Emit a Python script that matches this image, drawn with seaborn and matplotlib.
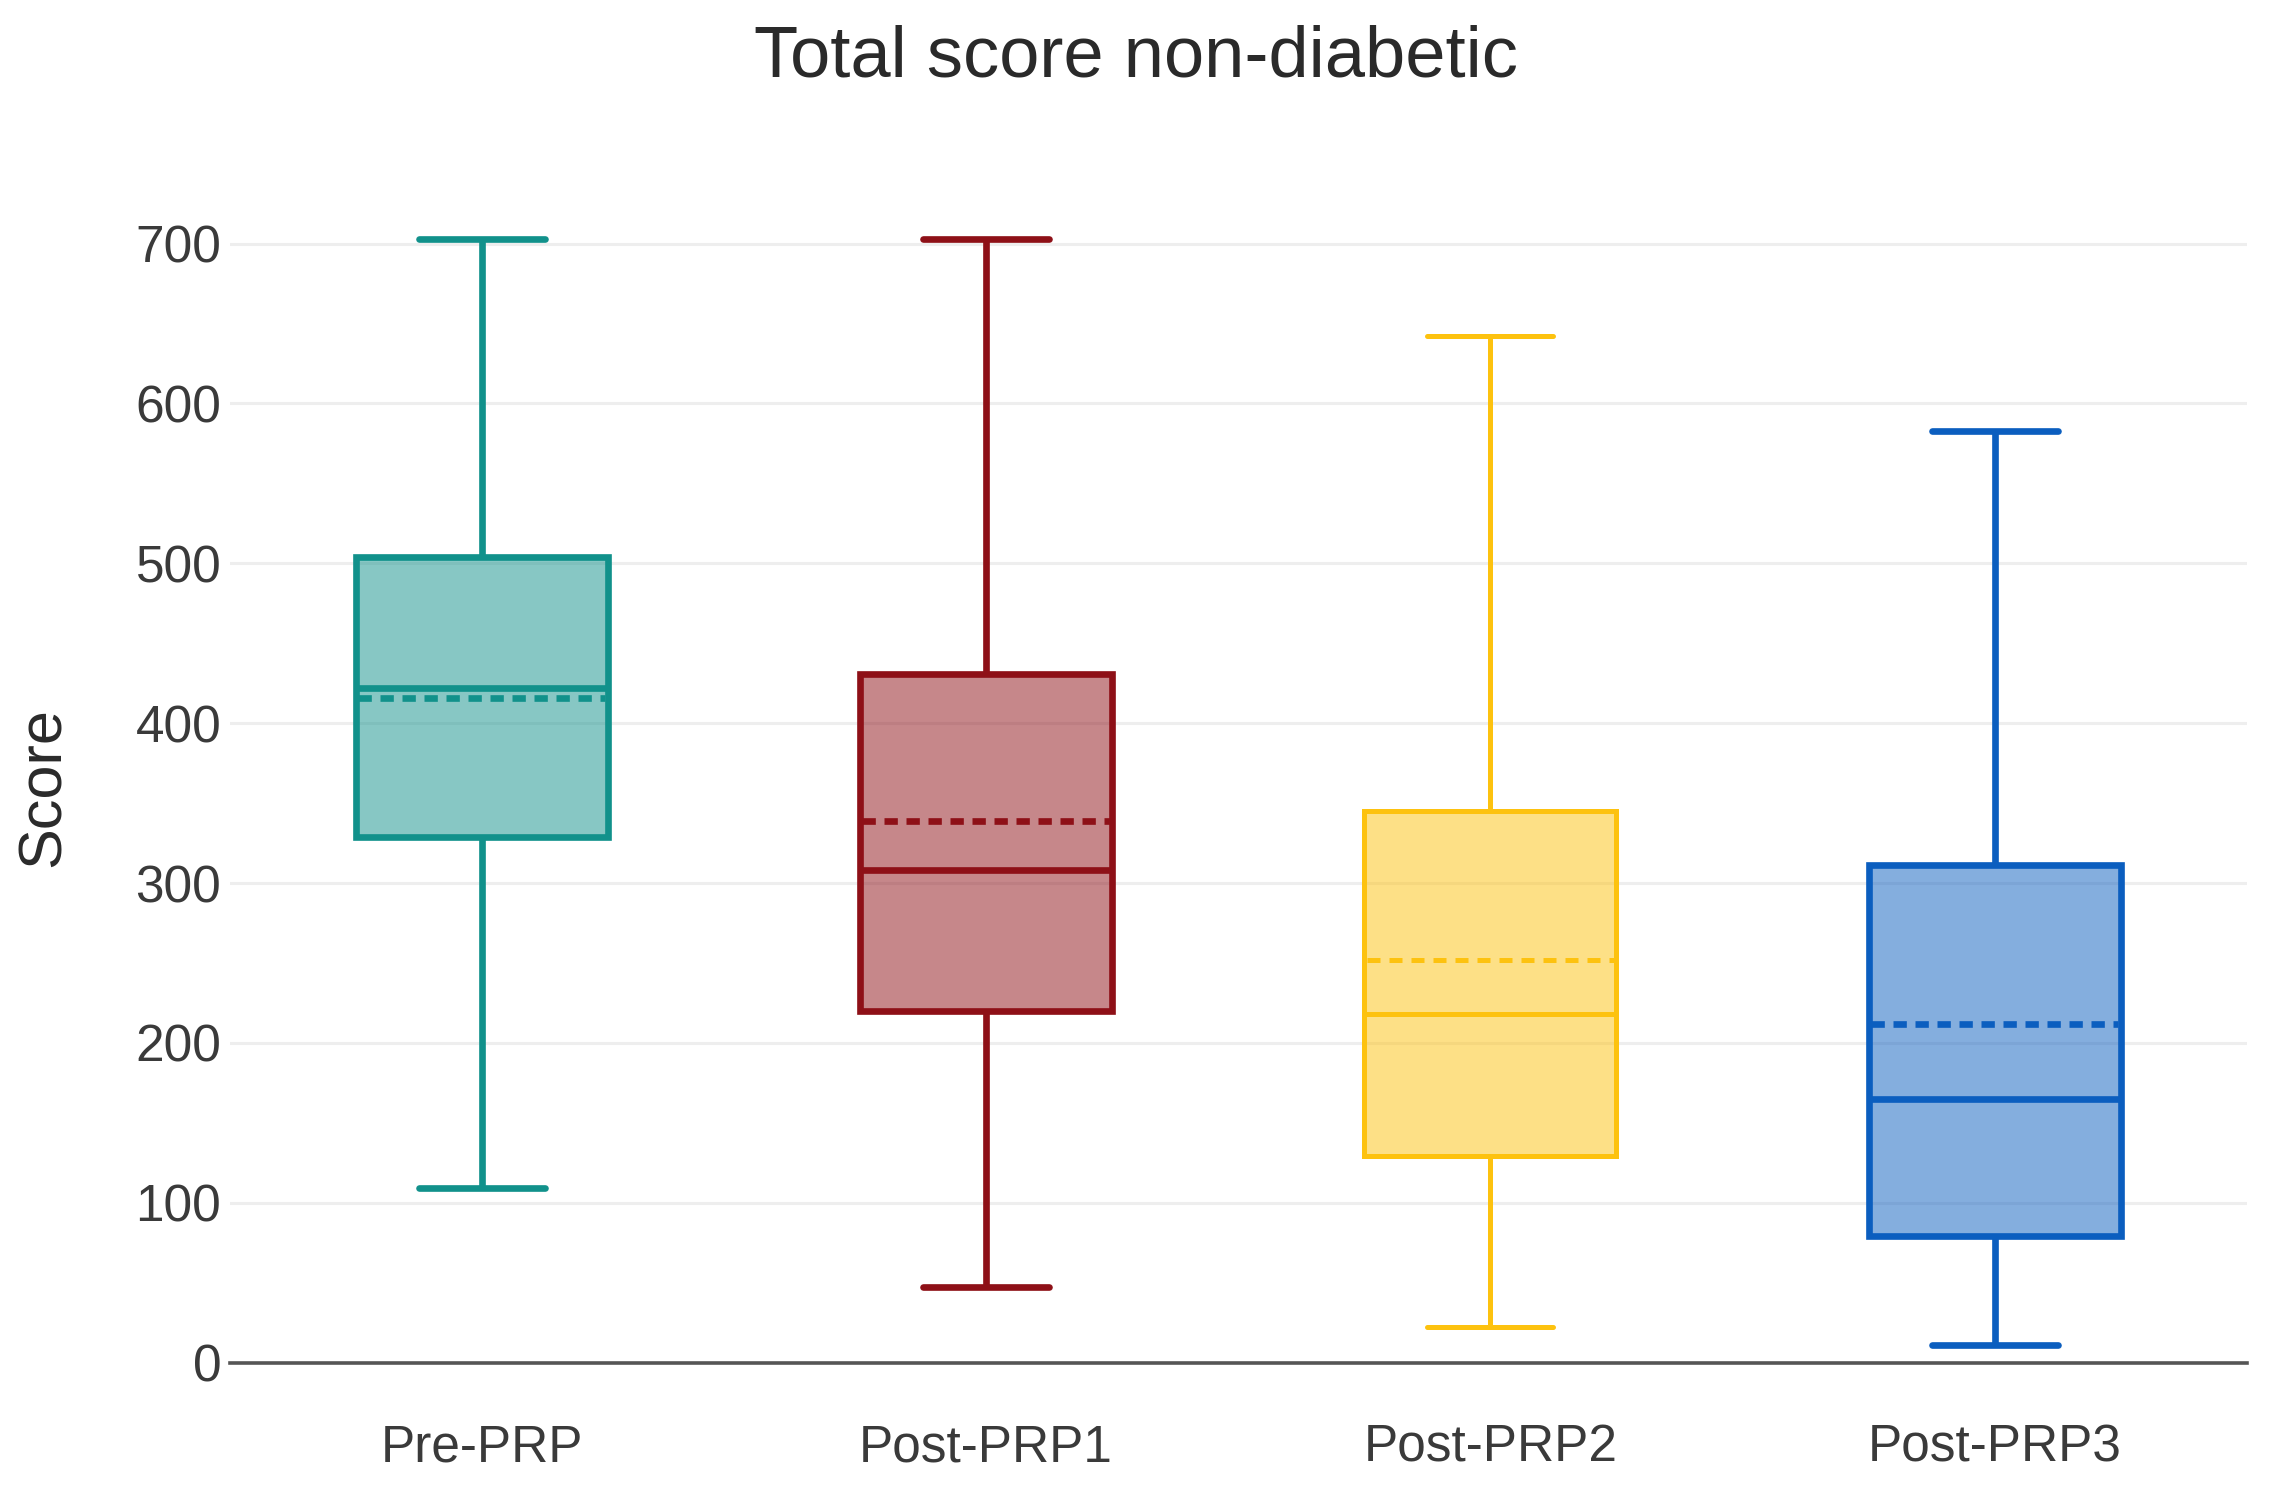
import numpy as np
import pandas as pd
import matplotlib
matplotlib.use("Agg")
import matplotlib.pyplot as plt
import seaborn as sns
from matplotlib.colors import to_rgba

# ---- data ----
categories = ["Pre-PRP", "Post-PRP1", "Post-PRP2", "Post-PRP3"]
whisker_low = [109, 47, 22, 11]
q1_values = [329, 220, 129, 79]
median_values = [422, 308, 218, 165]
q3_values = [504, 431, 345, 311]
whisker_high = [703, 703, 642, 583]
mean_values = [416, 339, 252, 212]
y_ticks = [0, 100, 200, 300, 400, 500, 600, 700]

edge_colors = ["#11918B", "#8E1017", "#FDC20F", "#0B5EBF"]
line_widths = [2.4, 2.4, 1.8, 2.4]
mean_dashes = [(0, (2.0, 1.3)), (0, (2.0, 1.3)), (0, (2.6, 1.8)), (0, (2.0, 1.3))]

# five-number summaries as records (n=5 -> quartiles are the 2nd/4th values)
rows = []
for cat, lo, a, m, b, hi in zip(categories, whisker_low, q1_values,
                                 median_values, q3_values, whisker_high):
    for v in (lo, a, m, b, hi):
        rows.append({"group": cat, "score": v})
df = pd.DataFrame(rows)

sns.set_theme(style="white")
plt.rcParams["font.family"] = ["Liberation Sans", "DejaVu Sans"]

fig = plt.figure(figsize=(11.365, 7.45), dpi=200)
ax = fig.add_axes([0.101, 0.0855, 0.8875, 0.7725])

for i, cat in enumerate(categories):
    n_before = len(ax.patches)
    sub = df[df["group"] == cat]
    sns.boxplot(data=sub, x="group", y="score", order=categories,
                color=edge_colors[i], linecolor=edge_colors[i],
                linewidth=line_widths[i], width=0.5, whis=np.inf,
                saturation=1, showfliers=False, ax=ax)
    for p in ax.patches[n_before:]:
        p.set_facecolor(to_rgba(edge_colors[i], 0.5))
        p.set_edgecolor(edge_colors[i])
    ax.hlines(mean_values[i], i - 0.245, i + 0.245, colors=edge_colors[i],
              linestyles=mean_dashes[i], linewidth=line_widths[i], zorder=5)

ax.set_xlim(-0.5, 3.5)
ax.set_ylim(0, 720)
ax.set_yticks(y_ticks)
ax.yaxis.grid(True, color="#EEEEEE", linewidth=1.1)
ax.xaxis.grid(False)
ax.set_axisbelow(True)
for s in ["top", "right", "left"]:
    ax.spines[s].set_visible(False)
ax.spines["bottom"].set_color("#555555")
ax.spines["bottom"].set_linewidth(1.3)
ax.tick_params(axis="both", length=0, labelsize=18.5, colors="#3a3a3a")
ax.tick_params(axis="x", pad=22)
ax.tick_params(axis="y", pad=3)
ax.set_xlabel("")
ax.set_ylabel("Score", fontsize=22, color="#2a2a2a")
ax.yaxis.set_label_coords(-0.078, 0.5)

fig.suptitle("Total score non-diabetic", fontsize=26, color="#2a2a2a",
             x=0.5, y=0.961, va="center")

fig.savefig("out.png", dpi=200)
